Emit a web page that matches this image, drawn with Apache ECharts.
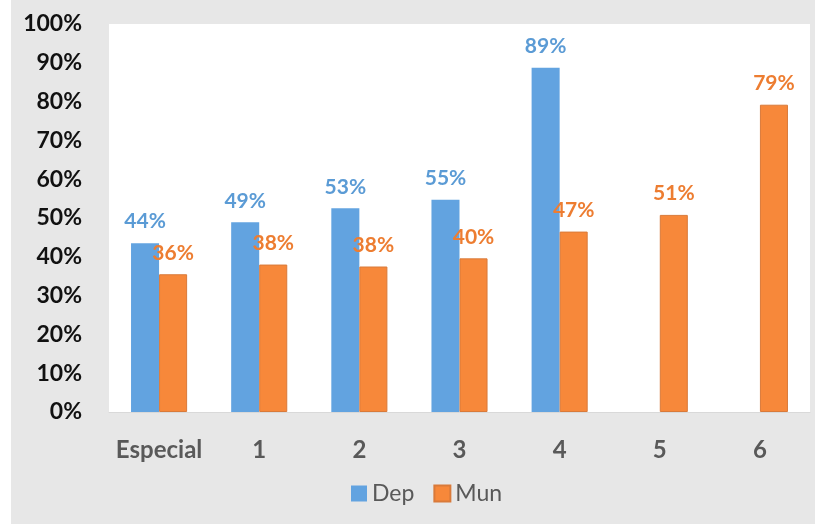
<!DOCTYPE html>
<html><head><meta charset="utf-8">
<script src="https://cdn.jsdelivr.net/npm/echarts@6/dist/echarts.min.js"></script>
<style>html,body{margin:0;padding:0;background:#fff;}#c{position:absolute;left:11px;top:0;width:804px;height:524px;}</style>
</head><body><div id="c"></div>
<script>
const categories = ['Especial', '1', '2', '3', '4', '5', '6'];
const depValues = [43.5, 48.9, 52.5, 54.7, 88.7, null, null];
const munValues = [35.5, 38.0, 37.5, 39.6, 46.5, 50.8, 79.2];
const yTicks = [0, 10, 20, 30, 40, 50, 60, 70, 80, 90, 100];

const chart = echarts.init(document.getElementById('c'), null, {renderer: 'canvas'});
const font = 'Lato, "Open Sans", sans-serif';
const lbl = (color) => ({
  show: true, position: 'top', distance: 11, color: color,
  fontFamily: font, fontWeight: 'bold', fontSize: 21,
  formatter: p => Math.round(p.value) + '%'
});
chart.setOption({
  backgroundColor: '#e7e7e7',
  animation: false,
  grid: {left: 98, right: 5, top: 24, bottom: 112, show: true, backgroundColor: '#ffffff', borderWidth: 0},
  legend: {
    data: ['Dep', 'Mun'], bottom: 14, left: 335,
    itemWidth: 16, itemHeight: 16, itemGap: 19, icon: 'rect',
    textStyle: {fontFamily: font, fontSize: 23, color: '#595959'}
  },
  xAxis: {
    type: 'category', data: categories,
    axisLine: {lineStyle: {color: '#d9d9d9', width: 1}},
    axisTick: {show: false},
    axisLabel: {interval: 0, margin: 26, color: '#595959', fontFamily: font, fontWeight: 'bold', fontSize: 24}
  },
  yAxis: {
    type: 'value', min: yTicks[0], max: yTicks[yTicks.length - 1], interval: 10,
    axisLine: {show: false}, axisTick: {show: false}, splitLine: {show: false},
    axisLabel: {margin: 27, color: '#111111', fontFamily: font, fontWeight: 'bold', fontSize: 23, formatter: '{value}%'}
  },
  series: [
    {name: 'Dep', type: 'bar', data: depValues, barWidth: '28%', barGap: '0%',
     itemStyle: {color: '#62a3e0'}, label: lbl('#5b9bd5')},
    {name: 'Mun', type: 'bar', data: munValues, barWidth: '28%',
     itemStyle: {color: '#f7883a', borderColor: '#d97a3a', borderWidth: 1}, label: lbl('#ed7d31')}
  ]
});
</script></body></html>
